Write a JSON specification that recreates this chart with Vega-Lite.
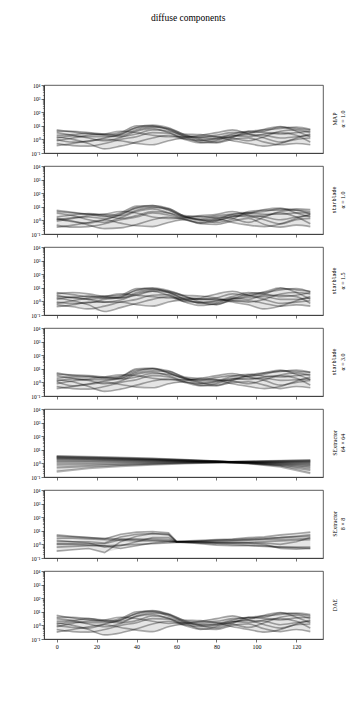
{
"$schema": "https://vega.github.io/schema/vega-lite/v6.json",
"background": "white",
"padding": {"left": 30, "top": 13, "right": 8, "bottom": 8},
"title": {"text": "diffuse components", "orient": "top", "angle": 0, "baseline": "top", "font": "Liberation Serif", "fontSize": 9.5, "fontWeight": "normal", "anchor": "middle", "offset": 60, "color": "#000"},
"config": {
 "font": "Liberation Serif",
 "view": {"stroke": "#333", "strokeWidth": 0.8},
 "axis": {"grid": false, "domainColor": "#333", "domainWidth": 0.8, "tickColor": "#333", "tickWidth": 0.7, "tickSize": 3, "labelFont": "Liberation Serif", "labelFontSize": 5.5, "labelColor": "#000", "labelPadding": 1},
 "title": {"orient": "right", "angle": -90, "baseline": "top", "anchor": "middle", "offset": 3, "fontWeight": "normal", "fontSize": 6, "font": "Liberation Serif", "color": "#000", "subtitleFont": "Liberation Serif", "subtitleFontSize": 6, "subtitleColor": "#000", "subtitlePadding": 1.5}
},
"spacing": 13,
"bounds": "flush",
"datasets": {"d": [
{"p":1,"s":1,"x":0,"y":1},{"p":1,"s":1,"x":8,"y":0.63},{"p":1,"s":1,"x":16,"y":0.71},{"p":1,"s":1,"x":24,"y":1.26},{"p":1,"s":1,"x":32,"y":2.24},{"p":1,"s":1,"x":40,"y":7.08},{"p":1,"s":1,"x":48,"y":8.91},{"p":1,"s":1,"x":56,"y":5.01},{"p":1,"s":1,"x":64,"y":1.78},{"p":1,"s":1,"x":72,"y":1.26},{"p":1,"s":1,"x":80,"y":1.12},{"p":1,"s":1,"x":88,"y":1.58},{"p":1,"s":1,"x":96,"y":2.24},{"p":1,"s":1,"x":104,"y":2},{"p":1,"s":1,"x":112,"y":1.26},{"p":1,"s":1,"x":120,"y":1.58},{"p":1,"s":1,"x":127,"y":2},
{"p":1,"s":2,"x":0,"y":5.01},{"p":1,"s":2,"x":8,"y":3.55},{"p":1,"s":2,"x":16,"y":2.51},{"p":1,"s":2,"x":24,"y":2.24},{"p":1,"s":2,"x":32,"y":3.16},{"p":1,"s":2,"x":40,"y":10},{"p":1,"s":2,"x":48,"y":10},{"p":1,"s":2,"x":56,"y":5.62},{"p":1,"s":2,"x":64,"y":2},{"p":1,"s":2,"x":72,"y":1.58},{"p":1,"s":2,"x":80,"y":2},{"p":1,"s":2,"x":88,"y":3.16},{"p":1,"s":2,"x":96,"y":3.16},{"p":1,"s":2,"x":104,"y":3.98},{"p":1,"s":2,"x":112,"y":7.94},{"p":1,"s":2,"x":120,"y":6.31},{"p":1,"s":2,"x":127,"y":5.01},
{"p":1,"s":3,"x":0,"y":2},{"p":1,"s":3,"x":8,"y":2.24},{"p":1,"s":3,"x":16,"y":2.82},{"p":1,"s":3,"x":24,"y":2},{"p":1,"s":3,"x":32,"y":1.58},{"p":1,"s":3,"x":40,"y":2.51},{"p":1,"s":3,"x":48,"y":5.01},{"p":1,"s":3,"x":56,"y":3.98},{"p":1,"s":3,"x":64,"y":1.58},{"p":1,"s":3,"x":72,"y":0.89},{"p":1,"s":3,"x":80,"y":1.26},{"p":1,"s":3,"x":88,"y":2.51},{"p":1,"s":3,"x":96,"y":3.98},{"p":1,"s":3,"x":104,"y":3.16},{"p":1,"s":3,"x":112,"y":2.51},{"p":1,"s":3,"x":120,"y":3.16},{"p":1,"s":3,"x":127,"y":3.98},
{"p":1,"s":4,"x":0,"y":0.35},{"p":1,"s":4,"x":8,"y":0.5},{"p":1,"s":4,"x":16,"y":0.79},{"p":1,"s":4,"x":24,"y":1},{"p":1,"s":4,"x":32,"y":0.79},{"p":1,"s":4,"x":40,"y":0.5},{"p":1,"s":4,"x":48,"y":0.4},{"p":1,"s":4,"x":56,"y":0.79},{"p":1,"s":4,"x":64,"y":1.26},{"p":1,"s":4,"x":72,"y":0.63},{"p":1,"s":4,"x":80,"y":0.56},{"p":1,"s":4,"x":88,"y":1},{"p":1,"s":4,"x":96,"y":1.26},{"p":1,"s":4,"x":104,"y":0.63},{"p":1,"s":4,"x":112,"y":0.4},{"p":1,"s":4,"x":120,"y":0.5},{"p":1,"s":4,"x":127,"y":0.4},
{"p":1,"s":5,"x":0,"y":3.16},{"p":1,"s":5,"x":8,"y":2},{"p":1,"s":5,"x":16,"y":1.26},{"p":1,"s":5,"x":24,"y":0.79},{"p":1,"s":5,"x":32,"y":1.41},{"p":1,"s":5,"x":40,"y":3.98},{"p":1,"s":5,"x":48,"y":6.31},{"p":1,"s":5,"x":56,"y":3.16},{"p":1,"s":5,"x":64,"y":1.41},{"p":1,"s":5,"x":72,"y":2},{"p":1,"s":5,"x":80,"y":3.16},{"p":1,"s":5,"x":88,"y":5.01},{"p":1,"s":5,"x":96,"y":2.51},{"p":1,"s":5,"x":104,"y":1.26},{"p":1,"s":5,"x":112,"y":0.63},{"p":1,"s":5,"x":120,"y":1},{"p":1,"s":5,"x":127,"y":1.26},
{"p":1,"s":6,"x":0,"y":0.79},{"p":1,"s":6,"x":8,"y":1.26},{"p":1,"s":6,"x":16,"y":2},{"p":1,"s":6,"x":24,"y":2.51},{"p":1,"s":6,"x":32,"y":3.98},{"p":1,"s":6,"x":40,"y":3.16},{"p":1,"s":6,"x":48,"y":2},{"p":1,"s":6,"x":56,"y":1.58},{"p":1,"s":6,"x":64,"y":1.58},{"p":1,"s":6,"x":72,"y":1.41},{"p":1,"s":6,"x":80,"y":1.58},{"p":1,"s":6,"x":88,"y":1.26},{"p":1,"s":6,"x":96,"y":0.79},{"p":1,"s":6,"x":104,"y":1.58},{"p":1,"s":6,"x":112,"y":3.98},{"p":1,"s":6,"x":120,"y":5.01},{"p":1,"s":6,"x":127,"y":3.16},
{"p":1,"s":7,"x":0,"y":1.58},{"p":1,"s":7,"x":8,"y":1},{"p":1,"s":7,"x":16,"y":0.5},{"p":1,"s":7,"x":24,"y":0.2},{"p":1,"s":7,"x":32,"y":0.32},{"p":1,"s":7,"x":40,"y":0.63},{"p":1,"s":7,"x":48,"y":1.26},{"p":1,"s":7,"x":56,"y":2},{"p":1,"s":7,"x":64,"y":1},{"p":1,"s":7,"x":72,"y":0.56},{"p":1,"s":7,"x":80,"y":0.79},{"p":1,"s":7,"x":88,"y":1.78},{"p":1,"s":7,"x":96,"y":2.82},{"p":1,"s":7,"x":104,"y":5.62},{"p":1,"s":7,"x":112,"y":8.91},{"p":1,"s":7,"x":120,"y":3.98},{"p":1,"s":7,"x":127,"y":1.58},
{"p":1,"s":8,"x":0,"y":3.98},{"p":1,"s":8,"x":8,"y":3.98},{"p":1,"s":8,"x":16,"y":3.16},{"p":1,"s":8,"x":24,"y":2.51},{"p":1,"s":8,"x":32,"y":2},{"p":1,"s":8,"x":40,"y":5.01},{"p":1,"s":8,"x":48,"y":7.94},{"p":1,"s":8,"x":56,"y":6.31},{"p":1,"s":8,"x":64,"y":2.51},{"p":1,"s":8,"x":72,"y":2.24},{"p":1,"s":8,"x":80,"y":1.58},{"p":1,"s":8,"x":88,"y":0.79},{"p":1,"s":8,"x":96,"y":0.5},{"p":1,"s":8,"x":104,"y":0.32},{"p":1,"s":8,"x":112,"y":0.5},{"p":1,"s":8,"x":120,"y":1.26},{"p":1,"s":8,"x":127,"y":2.51},
{"p":1,"s":9,"x":0,"y":0.5},{"p":1,"s":9,"x":8,"y":0.35},{"p":1,"s":9,"x":16,"y":0.32},{"p":1,"s":9,"x":24,"y":0.5},{"p":1,"s":9,"x":32,"y":1},{"p":1,"s":9,"x":40,"y":1.58},{"p":1,"s":9,"x":48,"y":3.16},{"p":1,"s":9,"x":56,"y":2.82},{"p":1,"s":9,"x":64,"y":1.12},{"p":1,"s":9,"x":72,"y":0.79},{"p":1,"s":9,"x":80,"y":1},{"p":1,"s":9,"x":88,"y":2},{"p":1,"s":9,"x":96,"y":1.58},{"p":1,"s":9,"x":104,"y":2.51},{"p":1,"s":9,"x":112,"y":3.16},{"p":1,"s":9,"x":120,"y":2},{"p":1,"s":9,"x":127,"y":0.63},
{"p":1,"s":10,"x":0,"y":1.26},{"p":1,"s":10,"x":8,"y":1.78},{"p":1,"s":10,"x":16,"y":1.58},{"p":1,"s":10,"x":24,"y":1.58},{"p":1,"s":10,"x":32,"y":2.51},{"p":1,"s":10,"x":40,"y":7.94},{"p":1,"s":10,"x":48,"y":11.2},{"p":1,"s":10,"x":56,"y":7.08},{"p":1,"s":10,"x":64,"y":2.24},{"p":1,"s":10,"x":72,"y":1},{"p":1,"s":10,"x":80,"y":0.63},{"p":1,"s":10,"x":88,"y":1.41},{"p":1,"s":10,"x":96,"y":3.98},{"p":1,"s":10,"x":104,"y":5.01},{"p":1,"s":10,"x":112,"y":6.31},{"p":1,"s":10,"x":120,"y":7.94},{"p":1,"s":10,"x":127,"y":5.62},

{"p":2,"s":1,"x":0,"y":1.26},{"p":2,"s":1,"x":8,"y":0.79},{"p":2,"s":1,"x":16,"y":0.63},{"p":2,"s":1,"x":24,"y":1.12},{"p":2,"s":1,"x":32,"y":2.51},{"p":2,"s":1,"x":40,"y":7.94},{"p":2,"s":1,"x":48,"y":10},{"p":2,"s":1,"x":56,"y":5.62},{"p":2,"s":1,"x":64,"y":2},{"p":2,"s":1,"x":72,"y":1.12},{"p":2,"s":1,"x":80,"y":1},{"p":2,"s":1,"x":88,"y":1.78},{"p":2,"s":1,"x":96,"y":2.51},{"p":2,"s":1,"x":104,"y":1.78},{"p":2,"s":1,"x":112,"y":1.12},{"p":2,"s":1,"x":120,"y":1.78},{"p":2,"s":1,"x":127,"y":2.24},
{"p":2,"s":2,"x":0,"y":5.62},{"p":2,"s":2,"x":8,"y":3.98},{"p":2,"s":2,"x":16,"y":2.82},{"p":2,"s":2,"x":24,"y":2},{"p":2,"s":2,"x":32,"y":3.55},{"p":2,"s":2,"x":40,"y":11.2},{"p":2,"s":2,"x":48,"y":12.6},{"p":2,"s":2,"x":56,"y":6.31},{"p":2,"s":2,"x":64,"y":1.78},{"p":2,"s":2,"x":72,"y":1.78},{"p":2,"s":2,"x":80,"y":2.24},{"p":2,"s":2,"x":88,"y":2.82},{"p":2,"s":2,"x":96,"y":3.55},{"p":2,"s":2,"x":104,"y":4.47},{"p":2,"s":2,"x":112,"y":7.08},{"p":2,"s":2,"x":120,"y":5.62},{"p":2,"s":2,"x":127,"y":4.47},
{"p":2,"s":3,"x":0,"y":1.78},{"p":2,"s":3,"x":8,"y":2.51},{"p":2,"s":3,"x":16,"y":3.16},{"p":2,"s":3,"x":24,"y":2.24},{"p":2,"s":3,"x":32,"y":1.41},{"p":2,"s":3,"x":40,"y":2.24},{"p":2,"s":3,"x":48,"y":4.47},{"p":2,"s":3,"x":56,"y":3.55},{"p":2,"s":3,"x":64,"y":1.78},{"p":2,"s":3,"x":72,"y":1},{"p":2,"s":3,"x":80,"y":1.41},{"p":2,"s":3,"x":88,"y":2.82},{"p":2,"s":3,"x":96,"y":3.55},{"p":2,"s":3,"x":104,"y":2.82},{"p":2,"s":3,"x":112,"y":2.82},{"p":2,"s":3,"x":120,"y":3.55},{"p":2,"s":3,"x":127,"y":3.55},
{"p":2,"s":4,"x":0,"y":0.32},{"p":2,"s":4,"x":8,"y":0.45},{"p":2,"s":4,"x":16,"y":0.71},{"p":2,"s":4,"x":24,"y":1.12},{"p":2,"s":4,"x":32,"y":0.63},{"p":2,"s":4,"x":40,"y":0.4},{"p":2,"s":4,"x":48,"y":0.35},{"p":2,"s":4,"x":56,"y":0.71},{"p":2,"s":4,"x":64,"y":1.12},{"p":2,"s":4,"x":72,"y":0.56},{"p":2,"s":4,"x":80,"y":0.5},{"p":2,"s":4,"x":88,"y":0.89},{"p":2,"s":4,"x":96,"y":1.41},{"p":2,"s":4,"x":104,"y":0.5},{"p":2,"s":4,"x":112,"y":0.32},{"p":2,"s":4,"x":120,"y":0.45},{"p":2,"s":4,"x":127,"y":0.35},
{"p":2,"s":5,"x":0,"y":3.55},{"p":2,"s":5,"x":8,"y":2.24},{"p":2,"s":5,"x":16,"y":1.12},{"p":2,"s":5,"x":24,"y":0.71},{"p":2,"s":5,"x":32,"y":1.58},{"p":2,"s":5,"x":40,"y":4.47},{"p":2,"s":5,"x":48,"y":7.08},{"p":2,"s":5,"x":56,"y":3.55},{"p":2,"s":5,"x":64,"y":1.58},{"p":2,"s":5,"x":72,"y":2.24},{"p":2,"s":5,"x":80,"y":2.82},{"p":2,"s":5,"x":88,"y":4.47},{"p":2,"s":5,"x":96,"y":2.24},{"p":2,"s":5,"x":104,"y":1.12},{"p":2,"s":5,"x":112,"y":0.56},{"p":2,"s":5,"x":120,"y":1.12},{"p":2,"s":5,"x":127,"y":1.41},
{"p":2,"s":6,"x":0,"y":0.89},{"p":2,"s":6,"x":8,"y":1.41},{"p":2,"s":6,"x":16,"y":2.24},{"p":2,"s":6,"x":24,"y":2.82},{"p":2,"s":6,"x":32,"y":4.47},{"p":2,"s":6,"x":40,"y":3.55},{"p":2,"s":6,"x":48,"y":1.78},{"p":2,"s":6,"x":56,"y":1.41},{"p":2,"s":6,"x":64,"y":1.41},{"p":2,"s":6,"x":72,"y":1.26},{"p":2,"s":6,"x":80,"y":1.78},{"p":2,"s":6,"x":88,"y":1.41},{"p":2,"s":6,"x":96,"y":0.71},{"p":2,"s":6,"x":104,"y":1.78},{"p":2,"s":6,"x":112,"y":4.47},{"p":2,"s":6,"x":120,"y":5.62},{"p":2,"s":6,"x":127,"y":2.82},
{"p":2,"s":7,"x":0,"y":1.41},{"p":2,"s":7,"x":8,"y":0.89},{"p":2,"s":7,"x":16,"y":0.45},{"p":2,"s":7,"x":24,"y":0.25},{"p":2,"s":7,"x":32,"y":0.28},{"p":2,"s":7,"x":40,"y":0.5},{"p":2,"s":7,"x":48,"y":1.12},{"p":2,"s":7,"x":56,"y":1.78},{"p":2,"s":7,"x":64,"y":1.12},{"p":2,"s":7,"x":72,"y":0.63},{"p":2,"s":7,"x":80,"y":0.89},{"p":2,"s":7,"x":88,"y":2},{"p":2,"s":7,"x":96,"y":3.16},{"p":2,"s":7,"x":104,"y":6.31},{"p":2,"s":7,"x":112,"y":7.94},{"p":2,"s":7,"x":120,"y":3.55},{"p":2,"s":7,"x":127,"y":1.78},
{"p":2,"s":8,"x":0,"y":4.47},{"p":2,"s":8,"x":8,"y":3.55},{"p":2,"s":8,"x":16,"y":2.82},{"p":2,"s":8,"x":24,"y":2.82},{"p":2,"s":8,"x":32,"y":2.24},{"p":2,"s":8,"x":40,"y":5.62},{"p":2,"s":8,"x":48,"y":8.91},{"p":2,"s":8,"x":56,"y":7.08},{"p":2,"s":8,"x":64,"y":2.24},{"p":2,"s":8,"x":72,"y":2},{"p":2,"s":8,"x":80,"y":1.41},{"p":2,"s":8,"x":88,"y":0.71},{"p":2,"s":8,"x":96,"y":0.45},{"p":2,"s":8,"x":104,"y":0.35},{"p":2,"s":8,"x":112,"y":0.56},{"p":2,"s":8,"x":120,"y":1.41},{"p":2,"s":8,"x":127,"y":2.82},
{"p":2,"s":9,"x":0,"y":0.45},{"p":2,"s":9,"x":8,"y":0.32},{"p":2,"s":9,"x":16,"y":0.35},{"p":2,"s":9,"x":24,"y":0.56},{"p":2,"s":9,"x":32,"y":1.12},{"p":2,"s":9,"x":40,"y":1.78},{"p":2,"s":9,"x":48,"y":3.55},{"p":2,"s":9,"x":56,"y":2.51},{"p":2,"s":9,"x":64,"y":1.26},{"p":2,"s":9,"x":72,"y":0.71},{"p":2,"s":9,"x":80,"y":1.12},{"p":2,"s":9,"x":88,"y":2.24},{"p":2,"s":9,"x":96,"y":1.78},{"p":2,"s":9,"x":104,"y":2.24},{"p":2,"s":9,"x":112,"y":3.55},{"p":2,"s":9,"x":120,"y":1.78},{"p":2,"s":9,"x":127,"y":0.56},
{"p":2,"s":10,"x":0,"y":1.12},{"p":2,"s":10,"x":8,"y":1.58},{"p":2,"s":10,"x":16,"y":1.78},{"p":2,"s":10,"x":24,"y":1.41},{"p":2,"s":10,"x":32,"y":2.82},{"p":2,"s":10,"x":40,"y":8.91},{"p":2,"s":10,"x":48,"y":12.6},{"p":2,"s":10,"x":56,"y":7.94},{"p":2,"s":10,"x":64,"y":2},{"p":2,"s":10,"x":72,"y":1.12},{"p":2,"s":10,"x":80,"y":0.71},{"p":2,"s":10,"x":88,"y":1.26},{"p":2,"s":10,"x":96,"y":4.47},{"p":2,"s":10,"x":104,"y":5.62},{"p":2,"s":10,"x":112,"y":5.62},{"p":2,"s":10,"x":120,"y":7.08},{"p":2,"s":10,"x":127,"y":6.31},

{"p":3,"s":1,"x":0,"y":0.89},{"p":3,"s":1,"x":8,"y":0.71},{"p":3,"s":1,"x":16,"y":0.79},{"p":3,"s":1,"x":24,"y":1.41},{"p":3,"s":1,"x":32,"y":2},{"p":3,"s":1,"x":40,"y":6.31},{"p":3,"s":1,"x":48,"y":7.94},{"p":3,"s":1,"x":56,"y":4.47},{"p":3,"s":1,"x":64,"y":1.58},{"p":3,"s":1,"x":72,"y":1.41},{"p":3,"s":1,"x":80,"y":1.26},{"p":3,"s":1,"x":88,"y":1.41},{"p":3,"s":1,"x":96,"y":2},{"p":3,"s":1,"x":104,"y":2.24},{"p":3,"s":1,"x":112,"y":1.41},{"p":3,"s":1,"x":120,"y":1.41},{"p":3,"s":1,"x":127,"y":1.78},
{"p":3,"s":2,"x":0,"y":4.47},{"p":3,"s":2,"x":8,"y":3.16},{"p":3,"s":2,"x":16,"y":2.24},{"p":3,"s":2,"x":24,"y":2.51},{"p":3,"s":2,"x":32,"y":2.82},{"p":3,"s":2,"x":40,"y":8.91},{"p":3,"s":2,"x":48,"y":8.91},{"p":3,"s":2,"x":56,"y":5.01},{"p":3,"s":2,"x":64,"y":2.24},{"p":3,"s":2,"x":72,"y":1.41},{"p":3,"s":2,"x":80,"y":1.78},{"p":3,"s":2,"x":88,"y":3.55},{"p":3,"s":2,"x":96,"y":2.82},{"p":3,"s":2,"x":104,"y":3.55},{"p":3,"s":2,"x":112,"y":8.91},{"p":3,"s":2,"x":120,"y":7.08},{"p":3,"s":2,"x":127,"y":5.62},
{"p":3,"s":3,"x":0,"y":2.24},{"p":3,"s":3,"x":8,"y":2},{"p":3,"s":3,"x":16,"y":2.51},{"p":3,"s":3,"x":24,"y":1.78},{"p":3,"s":3,"x":32,"y":1.78},{"p":3,"s":3,"x":40,"y":2.82},{"p":3,"s":3,"x":48,"y":5.62},{"p":3,"s":3,"x":56,"y":4.47},{"p":3,"s":3,"x":64,"y":1.41},{"p":3,"s":3,"x":72,"y":0.79},{"p":3,"s":3,"x":80,"y":1.12},{"p":3,"s":3,"x":88,"y":2.24},{"p":3,"s":3,"x":96,"y":4.47},{"p":3,"s":3,"x":104,"y":3.55},{"p":3,"s":3,"x":112,"y":2.24},{"p":3,"s":3,"x":120,"y":2.82},{"p":3,"s":3,"x":127,"y":4.47},
{"p":3,"s":4,"x":0,"y":0.4},{"p":3,"s":4,"x":8,"y":0.56},{"p":3,"s":4,"x":16,"y":0.89},{"p":3,"s":4,"x":24,"y":0.89},{"p":3,"s":4,"x":32,"y":0.89},{"p":3,"s":4,"x":40,"y":0.56},{"p":3,"s":4,"x":48,"y":0.45},{"p":3,"s":4,"x":56,"y":0.89},{"p":3,"s":4,"x":64,"y":1.41},{"p":3,"s":4,"x":72,"y":0.71},{"p":3,"s":4,"x":80,"y":0.63},{"p":3,"s":4,"x":88,"y":1.12},{"p":3,"s":4,"x":96,"y":1.12},{"p":3,"s":4,"x":104,"y":0.71},{"p":3,"s":4,"x":112,"y":0.45},{"p":3,"s":4,"x":120,"y":0.56},{"p":3,"s":4,"x":127,"y":0.45},
{"p":3,"s":5,"x":0,"y":2.82},{"p":3,"s":5,"x":8,"y":1.78},{"p":3,"s":5,"x":16,"y":1.41},{"p":3,"s":5,"x":24,"y":0.89},{"p":3,"s":5,"x":32,"y":1.26},{"p":3,"s":5,"x":40,"y":3.55},{"p":3,"s":5,"x":48,"y":5.62},{"p":3,"s":5,"x":56,"y":2.82},{"p":3,"s":5,"x":64,"y":1.26},{"p":3,"s":5,"x":72,"y":1.78},{"p":3,"s":5,"x":80,"y":3.55},{"p":3,"s":5,"x":88,"y":5.62},{"p":3,"s":5,"x":96,"y":2.82},{"p":3,"s":5,"x":104,"y":1.41},{"p":3,"s":5,"x":112,"y":0.71},{"p":3,"s":5,"x":120,"y":0.89},{"p":3,"s":5,"x":127,"y":1.12},
{"p":3,"s":6,"x":0,"y":0.71},{"p":3,"s":6,"x":8,"y":1.12},{"p":3,"s":6,"x":16,"y":1.78},{"p":3,"s":6,"x":24,"y":2.24},{"p":3,"s":6,"x":32,"y":3.55},{"p":3,"s":6,"x":40,"y":2.82},{"p":3,"s":6,"x":48,"y":2.24},{"p":3,"s":6,"x":56,"y":1.78},{"p":3,"s":6,"x":64,"y":1.78},{"p":3,"s":6,"x":72,"y":1.58},{"p":3,"s":6,"x":80,"y":1.41},{"p":3,"s":6,"x":88,"y":1.12},{"p":3,"s":6,"x":96,"y":0.89},{"p":3,"s":6,"x":104,"y":1.41},{"p":3,"s":6,"x":112,"y":3.55},{"p":3,"s":6,"x":120,"y":4.47},{"p":3,"s":6,"x":127,"y":3.55},
{"p":3,"s":7,"x":0,"y":1.78},{"p":3,"s":7,"x":8,"y":1.12},{"p":3,"s":7,"x":16,"y":0.56},{"p":3,"s":7,"x":24,"y":0.18},{"p":3,"s":7,"x":32,"y":0.35},{"p":3,"s":7,"x":40,"y":0.71},{"p":3,"s":7,"x":48,"y":1.41},{"p":3,"s":7,"x":56,"y":2.24},{"p":3,"s":7,"x":64,"y":0.89},{"p":3,"s":7,"x":72,"y":0.5},{"p":3,"s":7,"x":80,"y":0.71},{"p":3,"s":7,"x":88,"y":1.58},{"p":3,"s":7,"x":96,"y":2.51},{"p":3,"s":7,"x":104,"y":5.01},{"p":3,"s":7,"x":112,"y":10},{"p":3,"s":7,"x":120,"y":4.47},{"p":3,"s":7,"x":127,"y":1.41},
{"p":3,"s":8,"x":0,"y":3.55},{"p":3,"s":8,"x":8,"y":4.47},{"p":3,"s":8,"x":16,"y":3.55},{"p":3,"s":8,"x":24,"y":2.24},{"p":3,"s":8,"x":32,"y":1.78},{"p":3,"s":8,"x":40,"y":4.47},{"p":3,"s":8,"x":48,"y":7.08},{"p":3,"s":8,"x":56,"y":5.62},{"p":3,"s":8,"x":64,"y":2.82},{"p":3,"s":8,"x":72,"y":2.51},{"p":3,"s":8,"x":80,"y":1.78},{"p":3,"s":8,"x":88,"y":0.89},{"p":3,"s":8,"x":96,"y":0.56},{"p":3,"s":8,"x":104,"y":0.28},{"p":3,"s":8,"x":112,"y":0.45},{"p":3,"s":8,"x":120,"y":1.12},{"p":3,"s":8,"x":127,"y":2.24},
{"p":3,"s":9,"x":0,"y":0.56},{"p":3,"s":9,"x":8,"y":0.4},{"p":3,"s":9,"x":16,"y":0.28},{"p":3,"s":9,"x":24,"y":0.45},{"p":3,"s":9,"x":32,"y":0.89},{"p":3,"s":9,"x":40,"y":1.41},{"p":3,"s":9,"x":48,"y":2.82},{"p":3,"s":9,"x":56,"y":3.16},{"p":3,"s":9,"x":64,"y":1},{"p":3,"s":9,"x":72,"y":0.89},{"p":3,"s":9,"x":80,"y":0.89},{"p":3,"s":9,"x":88,"y":1.78},{"p":3,"s":9,"x":96,"y":1.41},{"p":3,"s":9,"x":104,"y":2.82},{"p":3,"s":9,"x":112,"y":2.82},{"p":3,"s":9,"x":120,"y":2.24},{"p":3,"s":9,"x":127,"y":0.71},
{"p":3,"s":10,"x":0,"y":1.41},{"p":3,"s":10,"x":8,"y":2},{"p":3,"s":10,"x":16,"y":1.41},{"p":3,"s":10,"x":24,"y":1.78},{"p":3,"s":10,"x":32,"y":2.24},{"p":3,"s":10,"x":40,"y":7.08},{"p":3,"s":10,"x":48,"y":10},{"p":3,"s":10,"x":56,"y":6.31},{"p":3,"s":10,"x":64,"y":2.51},{"p":3,"s":10,"x":72,"y":0.89},{"p":3,"s":10,"x":80,"y":0.56},{"p":3,"s":10,"x":88,"y":1.58},{"p":3,"s":10,"x":96,"y":3.55},{"p":3,"s":10,"x":104,"y":4.47},{"p":3,"s":10,"x":112,"y":7.08},{"p":3,"s":10,"x":120,"y":8.91},{"p":3,"s":10,"x":127,"y":5.01},

{"p":4,"s":1,"x":0,"y":1.12},{"p":4,"s":1,"x":8,"y":0.56},{"p":4,"s":1,"x":16,"y":0.79},{"p":4,"s":1,"x":24,"y":1.26},{"p":4,"s":1,"x":32,"y":2},{"p":4,"s":1,"x":40,"y":6.31},{"p":4,"s":1,"x":48,"y":10},{"p":4,"s":1,"x":56,"y":5.01},{"p":4,"s":1,"x":64,"y":2},{"p":4,"s":1,"x":72,"y":1.26},{"p":4,"s":1,"x":80,"y":1.26},{"p":4,"s":1,"x":88,"y":1.58},{"p":4,"s":1,"x":96,"y":2},{"p":4,"s":1,"x":104,"y":2},{"p":4,"s":1,"x":112,"y":1.41},{"p":4,"s":1,"x":120,"y":1.58},{"p":4,"s":1,"x":127,"y":1.78},
{"p":4,"s":2,"x":0,"y":5.01},{"p":4,"s":2,"x":8,"y":3.16},{"p":4,"s":2,"x":16,"y":2.82},{"p":4,"s":2,"x":24,"y":2.24},{"p":4,"s":2,"x":32,"y":2.82},{"p":4,"s":2,"x":40,"y":10},{"p":4,"s":2,"x":48,"y":11.2},{"p":4,"s":2,"x":56,"y":5.01},{"p":4,"s":2,"x":64,"y":2},{"p":4,"s":2,"x":72,"y":1.58},{"p":4,"s":2,"x":80,"y":2.24},{"p":4,"s":2,"x":88,"y":3.16},{"p":4,"s":2,"x":96,"y":2.82},{"p":4,"s":2,"x":104,"y":3.98},{"p":4,"s":2,"x":112,"y":7.08},{"p":4,"s":2,"x":120,"y":6.31},{"p":4,"s":2,"x":127,"y":5.62},
{"p":4,"s":3,"x":0,"y":2},{"p":4,"s":3,"x":8,"y":2.51},{"p":4,"s":3,"x":16,"y":2.51},{"p":4,"s":3,"x":24,"y":2},{"p":4,"s":3,"x":32,"y":1.78},{"p":4,"s":3,"x":40,"y":2.51},{"p":4,"s":3,"x":48,"y":4.47},{"p":4,"s":3,"x":56,"y":3.98},{"p":4,"s":3,"x":64,"y":1.78},{"p":4,"s":3,"x":72,"y":0.89},{"p":4,"s":3,"x":80,"y":1.26},{"p":4,"s":3,"x":88,"y":2.82},{"p":4,"s":3,"x":96,"y":3.98},{"p":4,"s":3,"x":104,"y":2.82},{"p":4,"s":3,"x":112,"y":2.51},{"p":4,"s":3,"x":120,"y":3.16},{"p":4,"s":3,"x":127,"y":3.98},
{"p":4,"s":4,"x":0,"y":0.35},{"p":4,"s":4,"x":8,"y":0.5},{"p":4,"s":4,"x":16,"y":0.71},{"p":4,"s":4,"x":24,"y":1},{"p":4,"s":4,"x":32,"y":0.71},{"p":4,"s":4,"x":40,"y":0.45},{"p":4,"s":4,"x":48,"y":0.4},{"p":4,"s":4,"x":56,"y":0.79},{"p":4,"s":4,"x":64,"y":1.12},{"p":4,"s":4,"x":72,"y":0.63},{"p":4,"s":4,"x":80,"y":0.56},{"p":4,"s":4,"x":88,"y":1},{"p":4,"s":4,"x":96,"y":1.12},{"p":4,"s":4,"x":104,"y":0.63},{"p":4,"s":4,"x":112,"y":0.35},{"p":4,"s":4,"x":120,"y":0.5},{"p":4,"s":4,"x":127,"y":0.4},
{"p":4,"s":5,"x":0,"y":3.16},{"p":4,"s":5,"x":8,"y":2},{"p":4,"s":5,"x":16,"y":1.41},{"p":4,"s":5,"x":24,"y":0.79},{"p":4,"s":5,"x":32,"y":1.26},{"p":4,"s":5,"x":40,"y":3.98},{"p":4,"s":5,"x":48,"y":5.62},{"p":4,"s":5,"x":56,"y":3.16},{"p":4,"s":5,"x":64,"y":1.41},{"p":4,"s":5,"x":72,"y":2},{"p":4,"s":5,"x":80,"y":3.16},{"p":4,"s":5,"x":88,"y":4.47},{"p":4,"s":5,"x":96,"y":2.51},{"p":4,"s":5,"x":104,"y":1.41},{"p":4,"s":5,"x":112,"y":0.63},{"p":4,"s":5,"x":120,"y":1},{"p":4,"s":5,"x":127,"y":1.41},
{"p":4,"s":6,"x":0,"y":0.79},{"p":4,"s":6,"x":8,"y":1.26},{"p":4,"s":6,"x":16,"y":1.78},{"p":4,"s":6,"x":24,"y":2.51},{"p":4,"s":6,"x":32,"y":3.55},{"p":4,"s":6,"x":40,"y":3.16},{"p":4,"s":6,"x":48,"y":2},{"p":4,"s":6,"x":56,"y":1.58},{"p":4,"s":6,"x":64,"y":1.58},{"p":4,"s":6,"x":72,"y":1.58},{"p":4,"s":6,"x":80,"y":1.58},{"p":4,"s":6,"x":88,"y":1.26},{"p":4,"s":6,"x":96,"y":0.79},{"p":4,"s":6,"x":104,"y":1.58},{"p":4,"s":6,"x":112,"y":3.55},{"p":4,"s":6,"x":120,"y":5.01},{"p":4,"s":6,"x":127,"y":3.16},
{"p":4,"s":7,"x":0,"y":1.58},{"p":4,"s":7,"x":8,"y":1.12},{"p":4,"s":7,"x":16,"y":0.5},{"p":4,"s":7,"x":24,"y":0.22},{"p":4,"s":7,"x":32,"y":0.32},{"p":4,"s":7,"x":40,"y":0.63},{"p":4,"s":7,"x":48,"y":1.26},{"p":4,"s":7,"x":56,"y":1.78},{"p":4,"s":7,"x":64,"y":1},{"p":4,"s":7,"x":72,"y":0.56},{"p":4,"s":7,"x":80,"y":0.79},{"p":4,"s":7,"x":88,"y":1.78},{"p":4,"s":7,"x":96,"y":2.82},{"p":4,"s":7,"x":104,"y":5.01},{"p":4,"s":7,"x":112,"y":7.94},{"p":4,"s":7,"x":120,"y":3.98},{"p":4,"s":7,"x":127,"y":1.58},
{"p":4,"s":8,"x":0,"y":3.98},{"p":4,"s":8,"x":8,"y":3.55},{"p":4,"s":8,"x":16,"y":3.16},{"p":4,"s":8,"x":24,"y":2.51},{"p":4,"s":8,"x":32,"y":2},{"p":4,"s":8,"x":40,"y":5.01},{"p":4,"s":8,"x":48,"y":7.08},{"p":4,"s":8,"x":56,"y":6.31},{"p":4,"s":8,"x":64,"y":2.51},{"p":4,"s":8,"x":72,"y":2},{"p":4,"s":8,"x":80,"y":1.58},{"p":4,"s":8,"x":88,"y":0.79},{"p":4,"s":8,"x":96,"y":0.5},{"p":4,"s":8,"x":104,"y":0.35},{"p":4,"s":8,"x":112,"y":0.5},{"p":4,"s":8,"x":120,"y":1.26},{"p":4,"s":8,"x":127,"y":2.51},
{"p":4,"s":9,"x":0,"y":0.5},{"p":4,"s":9,"x":8,"y":0.35},{"p":4,"s":9,"x":16,"y":0.32},{"p":4,"s":9,"x":24,"y":0.5},{"p":4,"s":9,"x":32,"y":1},{"p":4,"s":9,"x":40,"y":1.58},{"p":4,"s":9,"x":48,"y":3.16},{"p":4,"s":9,"x":56,"y":2.51},{"p":4,"s":9,"x":64,"y":1.12},{"p":4,"s":9,"x":72,"y":0.79},{"p":4,"s":9,"x":80,"y":1},{"p":4,"s":9,"x":88,"y":2},{"p":4,"s":9,"x":96,"y":1.58},{"p":4,"s":9,"x":104,"y":2.51},{"p":4,"s":9,"x":112,"y":3.16},{"p":4,"s":9,"x":120,"y":2},{"p":4,"s":9,"x":127,"y":0.63},
{"p":4,"s":10,"x":0,"y":1.26},{"p":4,"s":10,"x":8,"y":1.78},{"p":4,"s":10,"x":16,"y":1.58},{"p":4,"s":10,"x":24,"y":1.58},{"p":4,"s":10,"x":32,"y":2.51},{"p":4,"s":10,"x":40,"y":7.94},{"p":4,"s":10,"x":48,"y":10},{"p":4,"s":10,"x":56,"y":7.08},{"p":4,"s":10,"x":64,"y":2.24},{"p":4,"s":10,"x":72,"y":1},{"p":4,"s":10,"x":80,"y":0.63},{"p":4,"s":10,"x":88,"y":1.41},{"p":4,"s":10,"x":96,"y":3.55},{"p":4,"s":10,"x":104,"y":5.01},{"p":4,"s":10,"x":112,"y":6.31},{"p":4,"s":10,"x":120,"y":7.94},{"p":4,"s":10,"x":127,"y":5.62},

{"p":5,"s":1,"x":0,"y":3.5},{"p":5,"s":1,"x":16,"y":3.08},{"p":5,"s":1,"x":32,"y":2.67},{"p":5,"s":1,"x":48,"y":2.25},{"p":5,"s":1,"x":64,"y":1.83},{"p":5,"s":1,"x":80,"y":1.42},{"p":5,"s":1,"x":96,"y":1},{"p":5,"s":1,"x":112,"y":0.58},{"p":5,"s":1,"x":127,"y":0.19},
{"p":5,"s":2,"x":0,"y":3.2},{"p":5,"s":2,"x":16,"y":2.84},{"p":5,"s":2,"x":32,"y":2.48},{"p":5,"s":2,"x":48,"y":2.12},{"p":5,"s":2,"x":64,"y":1.76},{"p":5,"s":2,"x":80,"y":1.4},{"p":5,"s":2,"x":96,"y":1.03},{"p":5,"s":2,"x":112,"y":0.67},{"p":5,"s":2,"x":127,"y":0.33},
{"p":5,"s":3,"x":0,"y":2.9},{"p":5,"s":3,"x":16,"y":2.59},{"p":5,"s":3,"x":32,"y":2.29},{"p":5,"s":3,"x":48,"y":1.98},{"p":5,"s":3,"x":64,"y":1.68},{"p":5,"s":3,"x":80,"y":1.37},{"p":5,"s":3,"x":96,"y":1.07},{"p":5,"s":3,"x":112,"y":0.76},{"p":5,"s":3,"x":127,"y":0.48},
{"p":5,"s":4,"x":0,"y":2.6},{"p":5,"s":4,"x":16,"y":2.35},{"p":5,"s":4,"x":32,"y":2.1},{"p":5,"s":4,"x":48,"y":1.85},{"p":5,"s":4,"x":64,"y":1.6},{"p":5,"s":4,"x":80,"y":1.35},{"p":5,"s":4,"x":96,"y":1.1},{"p":5,"s":4,"x":112,"y":0.86},{"p":5,"s":4,"x":127,"y":0.62},
{"p":5,"s":5,"x":0,"y":2.3},{"p":5,"s":5,"x":16,"y":2.11},{"p":5,"s":5,"x":32,"y":1.91},{"p":5,"s":5,"x":48,"y":1.72},{"p":5,"s":5,"x":64,"y":1.53},{"p":5,"s":5,"x":80,"y":1.33},{"p":5,"s":5,"x":96,"y":1.14},{"p":5,"s":5,"x":112,"y":0.95},{"p":5,"s":5,"x":127,"y":0.76},
{"p":5,"s":6,"x":0,"y":2},{"p":5,"s":6,"x":16,"y":1.86},{"p":5,"s":6,"x":32,"y":1.72},{"p":5,"s":6,"x":48,"y":1.59},{"p":5,"s":6,"x":64,"y":1.45},{"p":5,"s":6,"x":80,"y":1.31},{"p":5,"s":6,"x":96,"y":1.17},{"p":5,"s":6,"x":112,"y":1.04},{"p":5,"s":6,"x":127,"y":0.91},
{"p":5,"s":7,"x":0,"y":1.6},{"p":5,"s":7,"x":16,"y":1.54},{"p":5,"s":7,"x":32,"y":1.47},{"p":5,"s":7,"x":48,"y":1.41},{"p":5,"s":7,"x":64,"y":1.35},{"p":5,"s":7,"x":80,"y":1.28},{"p":5,"s":7,"x":96,"y":1.22},{"p":5,"s":7,"x":112,"y":1.16},{"p":5,"s":7,"x":127,"y":1.1},
{"p":5,"s":8,"x":0,"y":1.2},{"p":5,"s":8,"x":16,"y":1.21},{"p":5,"s":8,"x":32,"y":1.22},{"p":5,"s":8,"x":48,"y":1.23},{"p":5,"s":8,"x":64,"y":1.24},{"p":5,"s":8,"x":80,"y":1.26},{"p":5,"s":8,"x":96,"y":1.27},{"p":5,"s":8,"x":112,"y":1.28},{"p":5,"s":8,"x":127,"y":1.29},
{"p":5,"s":9,"x":0,"y":0.8},{"p":5,"s":9,"x":16,"y":0.89},{"p":5,"s":9,"x":32,"y":0.97},{"p":5,"s":9,"x":48,"y":1.06},{"p":5,"s":9,"x":64,"y":1.14},{"p":5,"s":9,"x":80,"y":1.23},{"p":5,"s":9,"x":96,"y":1.31},{"p":5,"s":9,"x":112,"y":1.4},{"p":5,"s":9,"x":127,"y":1.48},
{"p":5,"s":10,"x":0,"y":0.5},{"p":5,"s":10,"x":16,"y":0.64},{"p":5,"s":10,"x":32,"y":0.78},{"p":5,"s":10,"x":48,"y":0.92},{"p":5,"s":10,"x":64,"y":1.07},{"p":5,"s":10,"x":80,"y":1.21},{"p":5,"s":10,"x":96,"y":1.35},{"p":5,"s":10,"x":112,"y":1.49},{"p":5,"s":10,"x":127,"y":1.62},
{"p":5,"s":11,"x":0,"y":0.25},{"p":5,"s":11,"x":16,"y":0.44},{"p":5,"s":11,"x":32,"y":0.63},{"p":5,"s":11,"x":48,"y":0.81},{"p":5,"s":11,"x":64,"y":1},{"p":5,"s":11,"x":80,"y":1.19},{"p":5,"s":11,"x":96,"y":1.38},{"p":5,"s":11,"x":112,"y":1.57},{"p":5,"s":11,"x":127,"y":1.74},

{"p":6,"s":1,"x":0,"y":1.12},{"p":6,"s":1,"x":8,"y":1.12},{"p":6,"s":1,"x":16,"y":1.12},{"p":6,"s":1,"x":24,"y":1.12},{"p":6,"s":1,"x":32,"y":2.24},{"p":6,"s":1,"x":40,"y":2.51},{"p":6,"s":1,"x":48,"y":2.51},{"p":6,"s":1,"x":56,"y":2.24},{"p":6,"s":1,"x":60,"y":1.58},{"p":6,"s":1,"x":64,"y":1.58},{"p":6,"s":1,"x":72,"y":1.58},{"p":6,"s":1,"x":80,"y":1.58},{"p":6,"s":1,"x":88,"y":1.78},{"p":6,"s":1,"x":96,"y":2},{"p":6,"s":1,"x":104,"y":2.24},{"p":6,"s":1,"x":112,"y":2.24},{"p":6,"s":1,"x":120,"y":2.51},{"p":6,"s":1,"x":127,"y":2.82},
{"p":6,"s":2,"x":0,"y":2.82},{"p":6,"s":2,"x":8,"y":2.82},{"p":6,"s":2,"x":16,"y":2.51},{"p":6,"s":2,"x":24,"y":2.24},{"p":6,"s":2,"x":32,"y":2},{"p":6,"s":2,"x":40,"y":1.78},{"p":6,"s":2,"x":48,"y":1.78},{"p":6,"s":2,"x":56,"y":1.66},{"p":6,"s":2,"x":60,"y":1.5},{"p":6,"s":2,"x":64,"y":1.41},{"p":6,"s":2,"x":72,"y":1.26},{"p":6,"s":2,"x":80,"y":1.12},{"p":6,"s":2,"x":88,"y":1},{"p":6,"s":2,"x":96,"y":0.89},{"p":6,"s":2,"x":104,"y":0.79},{"p":6,"s":2,"x":112,"y":0.63},{"p":6,"s":2,"x":120,"y":0.63},{"p":6,"s":2,"x":127,"y":0.63},
{"p":6,"s":3,"x":0,"y":5.01},{"p":6,"s":3,"x":8,"y":3.98},{"p":6,"s":3,"x":16,"y":3.16},{"p":6,"s":3,"x":24,"y":2.51},{"p":6,"s":3,"x":32,"y":5.62},{"p":6,"s":3,"x":40,"y":7.94},{"p":6,"s":3,"x":48,"y":8.91},{"p":6,"s":3,"x":56,"y":7.08},{"p":6,"s":3,"x":60,"y":1.7},{"p":6,"s":3,"x":64,"y":1.78},{"p":6,"s":3,"x":72,"y":2},{"p":6,"s":3,"x":80,"y":2.24},{"p":6,"s":3,"x":88,"y":2.51},{"p":6,"s":3,"x":96,"y":3.16},{"p":6,"s":3,"x":104,"y":3.55},{"p":6,"s":3,"x":112,"y":5.01},{"p":6,"s":3,"x":120,"y":6.31},{"p":6,"s":3,"x":127,"y":7.94},
{"p":6,"s":4,"x":0,"y":0.32},{"p":6,"s":4,"x":8,"y":0.4},{"p":6,"s":4,"x":16,"y":0.5},{"p":6,"s":4,"x":24,"y":0.25},{"p":6,"s":4,"x":32,"y":1.58},{"p":6,"s":4,"x":40,"y":3.98},{"p":6,"s":4,"x":48,"y":6.31},{"p":6,"s":4,"x":56,"y":5.62},{"p":6,"s":4,"x":60,"y":1.6},{"p":6,"s":4,"x":64,"y":1.58},{"p":6,"s":4,"x":72,"y":1.78},{"p":6,"s":4,"x":80,"y":2},{"p":6,"s":4,"x":88,"y":2.24},{"p":6,"s":4,"x":96,"y":2.51},{"p":6,"s":4,"x":104,"y":2.82},{"p":6,"s":4,"x":112,"y":3.16},{"p":6,"s":4,"x":120,"y":3.98},{"p":6,"s":4,"x":127,"y":5.01},
{"p":6,"s":5,"x":0,"y":1.58},{"p":6,"s":5,"x":8,"y":1.58},{"p":6,"s":5,"x":16,"y":1.26},{"p":6,"s":5,"x":24,"y":0.63},{"p":6,"s":5,"x":32,"y":0.79},{"p":6,"s":5,"x":40,"y":1.58},{"p":6,"s":5,"x":48,"y":3.16},{"p":6,"s":5,"x":56,"y":3.16},{"p":6,"s":5,"x":60,"y":1.5},{"p":6,"s":5,"x":64,"y":1.51},{"p":6,"s":5,"x":72,"y":1.41},{"p":6,"s":5,"x":80,"y":1.26},{"p":6,"s":5,"x":88,"y":1.26},{"p":6,"s":5,"x":96,"y":1.26},{"p":6,"s":5,"x":104,"y":1},{"p":6,"s":5,"x":112,"y":0.5},{"p":6,"s":5,"x":120,"y":0.45},{"p":6,"s":5,"x":127,"y":0.5},
{"p":6,"s":6,"x":0,"y":3.98},{"p":6,"s":6,"x":8,"y":3.55},{"p":6,"s":6,"x":16,"y":3.16},{"p":6,"s":6,"x":24,"y":2.82},{"p":6,"s":6,"x":32,"y":2.51},{"p":6,"s":6,"x":40,"y":2.24},{"p":6,"s":6,"x":48,"y":2},{"p":6,"s":6,"x":56,"y":1.78},{"p":6,"s":6,"x":60,"y":1.6},{"p":6,"s":6,"x":64,"y":1.58},{"p":6,"s":6,"x":72,"y":1.41},{"p":6,"s":6,"x":80,"y":1.41},{"p":6,"s":6,"x":88,"y":1.26},{"p":6,"s":6,"x":96,"y":1.26},{"p":6,"s":6,"x":104,"y":1.26},{"p":6,"s":6,"x":112,"y":1},{"p":6,"s":6,"x":120,"y":1.58},{"p":6,"s":6,"x":127,"y":3.16},
{"p":6,"s":7,"x":0,"y":0.63},{"p":6,"s":7,"x":8,"y":0.71},{"p":6,"s":7,"x":16,"y":0.79},{"p":6,"s":7,"x":24,"y":0.79},{"p":6,"s":7,"x":32,"y":0.5},{"p":6,"s":7,"x":40,"y":0.79},{"p":6,"s":7,"x":48,"y":1.26},{"p":6,"s":7,"x":56,"y":1.58},{"p":6,"s":7,"x":60,"y":1.55},{"p":6,"s":7,"x":64,"y":1.58},{"p":6,"s":7,"x":72,"y":1.78},{"p":6,"s":7,"x":80,"y":2},{"p":6,"s":7,"x":88,"y":2},{"p":6,"s":7,"x":96,"y":2.24},{"p":6,"s":7,"x":104,"y":2.51},{"p":6,"s":7,"x":112,"y":3.16},{"p":6,"s":7,"x":120,"y":3.55},{"p":6,"s":7,"x":127,"y":3.98},
{"p":6,"s":8,"x":0,"y":2},{"p":6,"s":8,"x":8,"y":1.58},{"p":6,"s":8,"x":16,"y":1.58},{"p":6,"s":8,"x":24,"y":1.26},{"p":6,"s":8,"x":32,"y":3.55},{"p":6,"s":8,"x":40,"y":5.62},{"p":6,"s":8,"x":48,"y":6.31},{"p":6,"s":8,"x":56,"y":5.01},{"p":6,"s":8,"x":60,"y":1.6},{"p":6,"s":8,"x":64,"y":1.66},{"p":6,"s":8,"x":72,"y":1.58},{"p":6,"s":8,"x":80,"y":1.41},{"p":6,"s":8,"x":88,"y":1.41},{"p":6,"s":8,"x":96,"y":1.41},{"p":6,"s":8,"x":104,"y":1.58},{"p":6,"s":8,"x":112,"y":1.78},{"p":6,"s":8,"x":120,"y":2},{"p":6,"s":8,"x":127,"y":2.24},
{"p":6,"s":9,"x":0,"y":1},{"p":6,"s":9,"x":8,"y":1},{"p":6,"s":9,"x":16,"y":0.89},{"p":6,"s":9,"x":24,"y":0.79},{"p":6,"s":9,"x":32,"y":0.89},{"p":6,"s":9,"x":40,"y":1},{"p":6,"s":9,"x":48,"y":1.12},{"p":6,"s":9,"x":56,"y":1.26},{"p":6,"s":9,"x":60,"y":1.4},{"p":6,"s":9,"x":64,"y":1.41},{"p":6,"s":9,"x":72,"y":1.12},{"p":6,"s":9,"x":80,"y":0.89},{"p":6,"s":9,"x":88,"y":0.79},{"p":6,"s":9,"x":96,"y":0.79},{"p":6,"s":9,"x":104,"y":0.71},{"p":6,"s":9,"x":112,"y":0.63},{"p":6,"s":9,"x":120,"y":0.56},{"p":6,"s":9,"x":127,"y":0.5},

{"p":7,"s":1,"x":0,"y":1},{"p":7,"s":1,"x":8,"y":0.71},{"p":7,"s":1,"x":16,"y":0.63},{"p":7,"s":1,"x":24,"y":1.26},{"p":7,"s":1,"x":32,"y":2.51},{"p":7,"s":1,"x":40,"y":7.08},{"p":7,"s":1,"x":48,"y":10},{"p":7,"s":1,"x":56,"y":5.01},{"p":7,"s":1,"x":64,"y":1.78},{"p":7,"s":1,"x":72,"y":1.12},{"p":7,"s":1,"x":80,"y":1.12},{"p":7,"s":1,"x":88,"y":1.78},{"p":7,"s":1,"x":96,"y":2.24},{"p":7,"s":1,"x":104,"y":2},{"p":7,"s":1,"x":112,"y":1.12},{"p":7,"s":1,"x":120,"y":1.58},{"p":7,"s":1,"x":127,"y":2},
{"p":7,"s":2,"x":0,"y":5.62},{"p":7,"s":2,"x":8,"y":3.55},{"p":7,"s":2,"x":16,"y":2.51},{"p":7,"s":2,"x":24,"y":2},{"p":7,"s":2,"x":32,"y":3.16},{"p":7,"s":2,"x":40,"y":10},{"p":7,"s":2,"x":48,"y":11.2},{"p":7,"s":2,"x":56,"y":6.31},{"p":7,"s":2,"x":64,"y":2},{"p":7,"s":2,"x":72,"y":1.78},{"p":7,"s":2,"x":80,"y":2},{"p":7,"s":2,"x":88,"y":3.16},{"p":7,"s":2,"x":96,"y":3.55},{"p":7,"s":2,"x":104,"y":3.98},{"p":7,"s":2,"x":112,"y":7.94},{"p":7,"s":2,"x":120,"y":7.08},{"p":7,"s":2,"x":127,"y":5.01},
{"p":7,"s":3,"x":0,"y":2},{"p":7,"s":3,"x":8,"y":2.24},{"p":7,"s":3,"x":16,"y":3.16},{"p":7,"s":3,"x":24,"y":2},{"p":7,"s":3,"x":32,"y":1.58},{"p":7,"s":3,"x":40,"y":2.24},{"p":7,"s":3,"x":48,"y":5.01},{"p":7,"s":3,"x":56,"y":3.55},{"p":7,"s":3,"x":64,"y":1.58},{"p":7,"s":3,"x":72,"y":1},{"p":7,"s":3,"x":80,"y":1.26},{"p":7,"s":3,"x":88,"y":2.51},{"p":7,"s":3,"x":96,"y":3.98},{"p":7,"s":3,"x":104,"y":3.16},{"p":7,"s":3,"x":112,"y":2.51},{"p":7,"s":3,"x":120,"y":3.55},{"p":7,"s":3,"x":127,"y":3.98},
{"p":7,"s":4,"x":0,"y":0.32},{"p":7,"s":4,"x":8,"y":0.5},{"p":7,"s":4,"x":16,"y":0.79},{"p":7,"s":4,"x":24,"y":1.12},{"p":7,"s":4,"x":32,"y":0.71},{"p":7,"s":4,"x":40,"y":0.45},{"p":7,"s":4,"x":48,"y":0.35},{"p":7,"s":4,"x":56,"y":0.79},{"p":7,"s":4,"x":64,"y":1.26},{"p":7,"s":4,"x":72,"y":0.56},{"p":7,"s":4,"x":80,"y":0.5},{"p":7,"s":4,"x":88,"y":1},{"p":7,"s":4,"x":96,"y":1.26},{"p":7,"s":4,"x":104,"y":0.56},{"p":7,"s":4,"x":112,"y":0.35},{"p":7,"s":4,"x":120,"y":0.5},{"p":7,"s":4,"x":127,"y":0.35},
{"p":7,"s":5,"x":0,"y":3.16},{"p":7,"s":5,"x":8,"y":2.24},{"p":7,"s":5,"x":16,"y":1.26},{"p":7,"s":5,"x":24,"y":0.79},{"p":7,"s":5,"x":32,"y":1.41},{"p":7,"s":5,"x":40,"y":4.47},{"p":7,"s":5,"x":48,"y":6.31},{"p":7,"s":5,"x":56,"y":3.16},{"p":7,"s":5,"x":64,"y":1.41},{"p":7,"s":5,"x":72,"y":2},{"p":7,"s":5,"x":80,"y":3.16},{"p":7,"s":5,"x":88,"y":5.01},{"p":7,"s":5,"x":96,"y":2.51},{"p":7,"s":5,"x":104,"y":1.12},{"p":7,"s":5,"x":112,"y":0.63},{"p":7,"s":5,"x":120,"y":1.12},{"p":7,"s":5,"x":127,"y":1.26},
{"p":7,"s":6,"x":0,"y":0.79},{"p":7,"s":6,"x":8,"y":1.41},{"p":7,"s":6,"x":16,"y":2},{"p":7,"s":6,"x":24,"y":2.51},{"p":7,"s":6,"x":32,"y":3.98},{"p":7,"s":6,"x":40,"y":3.16},{"p":7,"s":6,"x":48,"y":2},{"p":7,"s":6,"x":56,"y":1.41},{"p":7,"s":6,"x":64,"y":1.58},{"p":7,"s":6,"x":72,"y":1.41},{"p":7,"s":6,"x":80,"y":1.58},{"p":7,"s":6,"x":88,"y":1.26},{"p":7,"s":6,"x":96,"y":0.71},{"p":7,"s":6,"x":104,"y":1.58},{"p":7,"s":6,"x":112,"y":3.98},{"p":7,"s":6,"x":120,"y":5.62},{"p":7,"s":6,"x":127,"y":3.16},
{"p":7,"s":7,"x":0,"y":1.58},{"p":7,"s":7,"x":8,"y":1},{"p":7,"s":7,"x":16,"y":0.5},{"p":7,"s":7,"x":24,"y":0.2},{"p":7,"s":7,"x":32,"y":0.28},{"p":7,"s":7,"x":40,"y":0.56},{"p":7,"s":7,"x":48,"y":1.26},{"p":7,"s":7,"x":56,"y":2},{"p":7,"s":7,"x":64,"y":1},{"p":7,"s":7,"x":72,"y":0.5},{"p":7,"s":7,"x":80,"y":0.79},{"p":7,"s":7,"x":88,"y":1.78},{"p":7,"s":7,"x":96,"y":2.82},{"p":7,"s":7,"x":104,"y":5.62},{"p":7,"s":7,"x":112,"y":8.91},{"p":7,"s":7,"x":120,"y":3.98},{"p":7,"s":7,"x":127,"y":1.58},
{"p":7,"s":8,"x":0,"y":3.98},{"p":7,"s":8,"x":8,"y":3.98},{"p":7,"s":8,"x":16,"y":3.16},{"p":7,"s":8,"x":24,"y":2.51},{"p":7,"s":8,"x":32,"y":2},{"p":7,"s":8,"x":40,"y":5.01},{"p":7,"s":8,"x":48,"y":7.94},{"p":7,"s":8,"x":56,"y":6.31},{"p":7,"s":8,"x":64,"y":2.51},{"p":7,"s":8,"x":72,"y":2.24},{"p":7,"s":8,"x":80,"y":1.58},{"p":7,"s":8,"x":88,"y":0.79},{"p":7,"s":8,"x":96,"y":0.5},{"p":7,"s":8,"x":104,"y":0.32},{"p":7,"s":8,"x":112,"y":0.5},{"p":7,"s":8,"x":120,"y":1.26},{"p":7,"s":8,"x":127,"y":2.51},
{"p":7,"s":9,"x":0,"y":0.5},{"p":7,"s":9,"x":8,"y":0.35},{"p":7,"s":9,"x":16,"y":0.32},{"p":7,"s":9,"x":24,"y":0.5},{"p":7,"s":9,"x":32,"y":1},{"p":7,"s":9,"x":40,"y":1.58},{"p":7,"s":9,"x":48,"y":3.16},{"p":7,"s":9,"x":56,"y":2.82},{"p":7,"s":9,"x":64,"y":1.12},{"p":7,"s":9,"x":72,"y":0.79},{"p":7,"s":9,"x":80,"y":1},{"p":7,"s":9,"x":88,"y":2},{"p":7,"s":9,"x":96,"y":1.58},{"p":7,"s":9,"x":104,"y":2.51},{"p":7,"s":9,"x":112,"y":3.16},{"p":7,"s":9,"x":120,"y":2},{"p":7,"s":9,"x":127,"y":0.63},
{"p":7,"s":10,"x":0,"y":1.26},{"p":7,"s":10,"x":8,"y":1.78},{"p":7,"s":10,"x":16,"y":1.58},{"p":7,"s":10,"x":24,"y":1.58},{"p":7,"s":10,"x":32,"y":2.51},{"p":7,"s":10,"x":40,"y":7.94},{"p":7,"s":10,"x":48,"y":12.6},{"p":7,"s":10,"x":56,"y":7.08},{"p":7,"s":10,"x":64,"y":2.24},{"p":7,"s":10,"x":72,"y":1},{"p":7,"s":10,"x":80,"y":0.63},{"p":7,"s":10,"x":88,"y":1.41},{"p":7,"s":10,"x":96,"y":3.98},{"p":7,"s":10,"x":104,"y":5.01},{"p":7,"s":10,"x":112,"y":6.31},{"p":7,"s":10,"x":120,"y":7.94},{"p":7,"s":10,"x":127,"y":6.31}
]},
"vconcat": [
{"width": 279, "height": 68, "data": {"name": "d"}, "transform": [{"filter": "datum.p == 1"}],
 "title": {"text": "α = 1.0", "subtitle": "MAP"},
 "encoding": {"x": {"field": "x", "type": "quantitative", "scale": {"domain": [-6.35, 133.35], "nice": false, "zero": false}, "axis": {"values": [0,20,40,60,80,100,120], "labels": false, "title": null}}},
 "layer": [
  {"transform": [{"aggregate": [{"op": "min", "field": "y", "as": "lo"}, {"op": "max", "field": "y", "as": "hi"}], "groupby": ["x"]}],
   "mark": {"type": "area", "color": "#000", "opacity": 0.1, "interpolate": "monotone"},
   "encoding": {"y": {"field": "lo", "type": "quantitative", "scale": {"type": "log", "domain": [0.1, 10000], "nice": false}, "axis": {"values": [0.1,1,10,100,1000,10000], "title": null, "labelExpr": "datum.value < 0.5 ? '10⁻¹' : datum.value < 5 ? '10⁰' : datum.value < 50 ? '10¹' : datum.value < 500 ? '10²' : datum.value < 5000 ? '10³' : '10⁴'"}}, "y2": {"field": "hi"}}},
  {"mark": {"type": "line", "color": "#000", "opacity": 0.33, "strokeWidth": 1.6, "interpolate": "monotone"},
   "encoding": {"y": {"field": "y", "type": "quantitative", "axis": {"orient": "left", "values": [0.2,0.3,0.4,0.5,0.6,0.7,0.8,0.9,2,3,4,5,6,7,8,9,20,30,40,50,60,70,80,90,200,300,400,500,600,700,800,900,2000,3000,4000,5000,6000,7000,8000,9000], "labels": false, "domain": false, "tickSize": 1.6, "tickWidth": 0.5, "title": null}}, "detail": {"field": "s"}}}
 ],
 "resolve": {"axis": {"y": "independent"}}},
{"width": 279, "height": 68, "data": {"name": "d"}, "transform": [{"filter": "datum.p == 2"}],
 "title": {"text": "α = 1.0", "subtitle": "starblade", "subtitleFont": "Liberation Mono", "subtitleFontSize": 5},
 "encoding": {"x": {"field": "x", "type": "quantitative", "scale": {"domain": [-6.35, 133.35], "nice": false, "zero": false}, "axis": {"values": [0,20,40,60,80,100,120], "labels": false, "title": null}}},
 "layer": [
  {"transform": [{"aggregate": [{"op": "min", "field": "y", "as": "lo"}, {"op": "max", "field": "y", "as": "hi"}], "groupby": ["x"]}],
   "mark": {"type": "area", "color": "#000", "opacity": 0.1, "interpolate": "monotone"},
   "encoding": {"y": {"field": "lo", "type": "quantitative", "scale": {"type": "log", "domain": [0.1, 10000], "nice": false}, "axis": {"values": [0.1,1,10,100,1000,10000], "title": null, "labelExpr": "datum.value < 0.5 ? '10⁻¹' : datum.value < 5 ? '10⁰' : datum.value < 50 ? '10¹' : datum.value < 500 ? '10²' : datum.value < 5000 ? '10³' : '10⁴'"}}, "y2": {"field": "hi"}}},
  {"mark": {"type": "line", "color": "#000", "opacity": 0.33, "strokeWidth": 1.6, "interpolate": "monotone"},
   "encoding": {"y": {"field": "y", "type": "quantitative", "axis": {"orient": "left", "values": [0.2,0.3,0.4,0.5,0.6,0.7,0.8,0.9,2,3,4,5,6,7,8,9,20,30,40,50,60,70,80,90,200,300,400,500,600,700,800,900,2000,3000,4000,5000,6000,7000,8000,9000], "labels": false, "domain": false, "tickSize": 1.6, "tickWidth": 0.5, "title": null}}, "detail": {"field": "s"}}}
 ],
 "resolve": {"axis": {"y": "independent"}}},
{"width": 279, "height": 68, "data": {"name": "d"}, "transform": [{"filter": "datum.p == 3"}],
 "title": {"text": "α = 1.5", "subtitle": "starblade", "subtitleFont": "Liberation Mono", "subtitleFontSize": 5},
 "encoding": {"x": {"field": "x", "type": "quantitative", "scale": {"domain": [-6.35, 133.35], "nice": false, "zero": false}, "axis": {"values": [0,20,40,60,80,100,120], "labels": false, "title": null}}},
 "layer": [
  {"transform": [{"aggregate": [{"op": "min", "field": "y", "as": "lo"}, {"op": "max", "field": "y", "as": "hi"}], "groupby": ["x"]}],
   "mark": {"type": "area", "color": "#000", "opacity": 0.1, "interpolate": "monotone"},
   "encoding": {"y": {"field": "lo", "type": "quantitative", "scale": {"type": "log", "domain": [0.1, 10000], "nice": false}, "axis": {"values": [0.1,1,10,100,1000,10000], "title": null, "labelExpr": "datum.value < 0.5 ? '10⁻¹' : datum.value < 5 ? '10⁰' : datum.value < 50 ? '10¹' : datum.value < 500 ? '10²' : datum.value < 5000 ? '10³' : '10⁴'"}}, "y2": {"field": "hi"}}},
  {"mark": {"type": "line", "color": "#000", "opacity": 0.33, "strokeWidth": 1.6, "interpolate": "monotone"},
   "encoding": {"y": {"field": "y", "type": "quantitative", "axis": {"orient": "left", "values": [0.2,0.3,0.4,0.5,0.6,0.7,0.8,0.9,2,3,4,5,6,7,8,9,20,30,40,50,60,70,80,90,200,300,400,500,600,700,800,900,2000,3000,4000,5000,6000,7000,8000,9000], "labels": false, "domain": false, "tickSize": 1.6, "tickWidth": 0.5, "title": null}}, "detail": {"field": "s"}}}
 ],
 "resolve": {"axis": {"y": "independent"}}},
{"width": 279, "height": 68, "data": {"name": "d"}, "transform": [{"filter": "datum.p == 4"}],
 "title": {"text": "α = 3.0", "subtitle": "starblade", "subtitleFont": "Liberation Mono", "subtitleFontSize": 5},
 "encoding": {"x": {"field": "x", "type": "quantitative", "scale": {"domain": [-6.35, 133.35], "nice": false, "zero": false}, "axis": {"values": [0,20,40,60,80,100,120], "labels": false, "title": null}}},
 "layer": [
  {"transform": [{"aggregate": [{"op": "min", "field": "y", "as": "lo"}, {"op": "max", "field": "y", "as": "hi"}], "groupby": ["x"]}],
   "mark": {"type": "area", "color": "#000", "opacity": 0.1, "interpolate": "monotone"},
   "encoding": {"y": {"field": "lo", "type": "quantitative", "scale": {"type": "log", "domain": [0.1, 10000], "nice": false}, "axis": {"values": [0.1,1,10,100,1000,10000], "title": null, "labelExpr": "datum.value < 0.5 ? '10⁻¹' : datum.value < 5 ? '10⁰' : datum.value < 50 ? '10¹' : datum.value < 500 ? '10²' : datum.value < 5000 ? '10³' : '10⁴'"}}, "y2": {"field": "hi"}}},
  {"mark": {"type": "line", "color": "#000", "opacity": 0.33, "strokeWidth": 1.6, "interpolate": "monotone"},
   "encoding": {"y": {"field": "y", "type": "quantitative", "axis": {"orient": "left", "values": [0.2,0.3,0.4,0.5,0.6,0.7,0.8,0.9,2,3,4,5,6,7,8,9,20,30,40,50,60,70,80,90,200,300,400,500,600,700,800,900,2000,3000,4000,5000,6000,7000,8000,9000], "labels": false, "domain": false, "tickSize": 1.6, "tickWidth": 0.5, "title": null}}, "detail": {"field": "s"}}}
 ],
 "resolve": {"axis": {"y": "independent"}}},
{"width": 279, "height": 68, "data": {"name": "d"}, "transform": [{"filter": "datum.p == 5"}],
 "title": {"text": "64 × 64", "subtitle": "SExtractor"},
 "encoding": {"x": {"field": "x", "type": "quantitative", "scale": {"domain": [-6.35, 133.35], "nice": false, "zero": false}, "axis": {"values": [0,20,40,60,80,100,120], "labels": false, "title": null}}},
 "layer": [
  {"transform": [{"aggregate": [{"op": "min", "field": "y", "as": "lo"}, {"op": "max", "field": "y", "as": "hi"}], "groupby": ["x"]}],
   "mark": {"type": "area", "color": "#000", "opacity": 0.12},
   "encoding": {"y": {"field": "lo", "type": "quantitative", "scale": {"type": "log", "domain": [0.1, 10000], "nice": false}, "axis": {"values": [0.1,1,10,100,1000,10000], "title": null, "labelExpr": "datum.value < 0.5 ? '10⁻¹' : datum.value < 5 ? '10⁰' : datum.value < 50 ? '10¹' : datum.value < 500 ? '10²' : datum.value < 5000 ? '10³' : '10⁴'"}}, "y2": {"field": "hi"}}},
  {"mark": {"type": "line", "color": "#000", "opacity": 0.3, "strokeWidth": 2.2},
   "encoding": {"y": {"field": "y", "type": "quantitative", "axis": {"orient": "left", "values": [0.2,0.3,0.4,0.5,0.6,0.7,0.8,0.9,2,3,4,5,6,7,8,9,20,30,40,50,60,70,80,90,200,300,400,500,600,700,800,900,2000,3000,4000,5000,6000,7000,8000,9000], "labels": false, "domain": false, "tickSize": 1.6, "tickWidth": 0.5, "title": null}}, "detail": {"field": "s"}}}
 ],
 "resolve": {"axis": {"y": "independent"}}},
{"width": 279, "height": 68, "data": {"name": "d"}, "transform": [{"filter": "datum.p == 6"}],
 "title": {"text": "8 × 8", "subtitle": "SExtractor"},
 "encoding": {"x": {"field": "x", "type": "quantitative", "scale": {"domain": [-6.35, 133.35], "nice": false, "zero": false}, "axis": {"values": [0,20,40,60,80,100,120], "labels": false, "title": null}}},
 "layer": [
  {"transform": [{"aggregate": [{"op": "min", "field": "y", "as": "lo"}, {"op": "max", "field": "y", "as": "hi"}], "groupby": ["x"]}],
   "mark": {"type": "area", "color": "#000", "opacity": 0.1},
   "encoding": {"y": {"field": "lo", "type": "quantitative", "scale": {"type": "log", "domain": [0.1, 10000], "nice": false}, "axis": {"values": [0.1,1,10,100,1000,10000], "title": null, "labelExpr": "datum.value < 0.5 ? '10⁻¹' : datum.value < 5 ? '10⁰' : datum.value < 50 ? '10¹' : datum.value < 500 ? '10²' : datum.value < 5000 ? '10³' : '10⁴'"}}, "y2": {"field": "hi"}}},
  {"mark": {"type": "line", "color": "#000", "opacity": 0.33, "strokeWidth": 1.6},
   "encoding": {"y": {"field": "y", "type": "quantitative", "axis": {"orient": "left", "values": [0.2,0.3,0.4,0.5,0.6,0.7,0.8,0.9,2,3,4,5,6,7,8,9,20,30,40,50,60,70,80,90,200,300,400,500,600,700,800,900,2000,3000,4000,5000,6000,7000,8000,9000], "labels": false, "domain": false, "tickSize": 1.6, "tickWidth": 0.5, "title": null}}, "detail": {"field": "s"}}}
 ],
 "resolve": {"axis": {"y": "independent"}}},
{"width": 279, "height": 68, "data": {"name": "d"}, "transform": [{"filter": "datum.p == 7"}],
 "title": {"text": "DAE"},
 "encoding": {"x": {"field": "x", "type": "quantitative", "scale": {"domain": [-6.35, 133.35], "nice": false, "zero": false}, "axis": {"values": [0,20,40,60,80,100,120], "labels": true, "title": null, "labelFontSize": 6}}},
 "layer": [
  {"transform": [{"aggregate": [{"op": "min", "field": "y", "as": "lo"}, {"op": "max", "field": "y", "as": "hi"}], "groupby": ["x"]}],
   "mark": {"type": "area", "color": "#000", "opacity": 0.1, "interpolate": "monotone"},
   "encoding": {"y": {"field": "lo", "type": "quantitative", "scale": {"type": "log", "domain": [0.1, 10000], "nice": false}, "axis": {"values": [0.1,1,10,100,1000,10000], "title": null, "labelExpr": "datum.value < 0.5 ? '10⁻¹' : datum.value < 5 ? '10⁰' : datum.value < 50 ? '10¹' : datum.value < 500 ? '10²' : datum.value < 5000 ? '10³' : '10⁴'"}}, "y2": {"field": "hi"}}},
  {"mark": {"type": "line", "color": "#000", "opacity": 0.33, "strokeWidth": 1.6, "interpolate": "monotone"},
   "encoding": {"y": {"field": "y", "type": "quantitative", "axis": {"orient": "left", "values": [0.2,0.3,0.4,0.5,0.6,0.7,0.8,0.9,2,3,4,5,6,7,8,9,20,30,40,50,60,70,80,90,200,300,400,500,600,700,800,900,2000,3000,4000,5000,6000,7000,8000,9000], "labels": false, "domain": false, "tickSize": 1.6, "tickWidth": 0.5, "title": null}}, "detail": {"field": "s"}}}
 ],
 "resolve": {"axis": {"y": "independent"}}}
]
}
